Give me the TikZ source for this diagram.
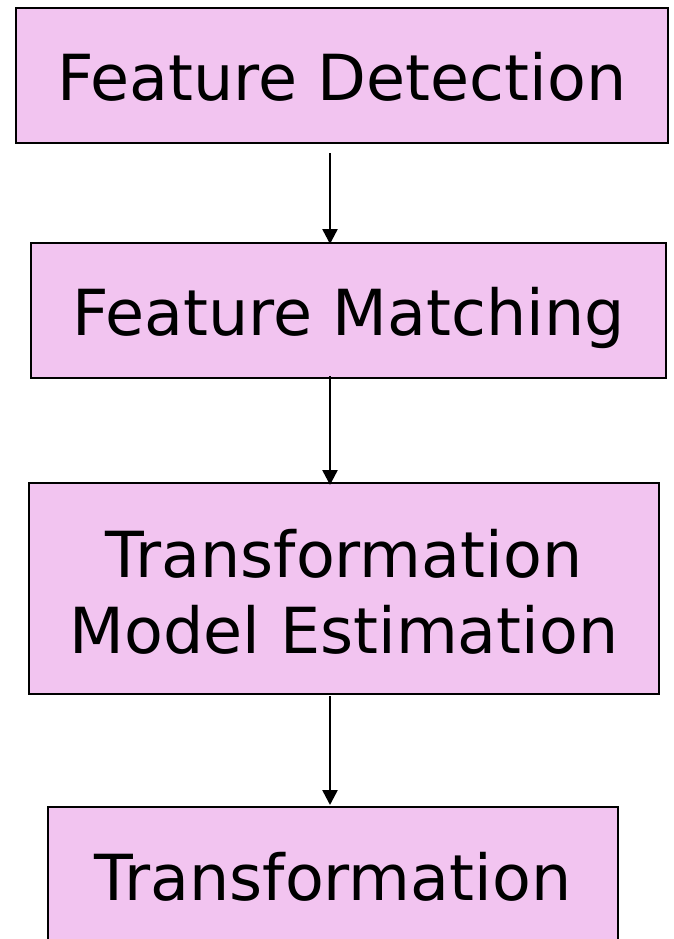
\documentclass[tikz,border=0pt]{standalone}
\usepackage{fontspec}
\setmainfont{DejaVu Sans}
\usetikzlibrary{arrows.meta}
\definecolor{boxfill}{RGB}{242,196,240}
\begin{document}
\begin{tikzpicture}[x=1pt,y=-1pt,
  box/.style={draw=black, line width=2pt, fill=boxfill, inner sep=0pt,
    font=\fontsize{63.5}{76}\selectfont, align=center, text height=50pt, text depth=0pt},
  arr/.style={line width=2.5pt, -{Triangle[length=15pt,width=15pt]}}]
\useasboundingbox (0,0) rectangle (673,939);
\node[box, minimum width=652pt, minimum height=135pt] (b1) at (342,75.5) {Feature Detection};
\node[box, minimum width=635pt, minimum height=135pt] (b2) at (348.5,310.5) {Feature Matching};
\node[box, minimum width=630pt, minimum height=211pt, text height=129pt, text depth=0pt] (b3) at (344,588.5) {Transformation\\Model Estimation};
\node[box, minimum width=570pt, minimum height=136pt] (b4) at (333,875) {Transformation};
\coordinate (ax) at (330,0);
\draw[arr] ([yshift=-9pt]b1.south -| ax) -- ([yshift=-2pt]b2.north -| ax);
\draw[arr] ([yshift=3pt]b2.south -| ax) -- ([yshift=-3pt]b3.north -| ax);
\draw[arr] ([yshift=-1pt]b3.south -| ax) -- ([yshift=1pt]b4.north -| ax);
\end{tikzpicture}
\end{document}
